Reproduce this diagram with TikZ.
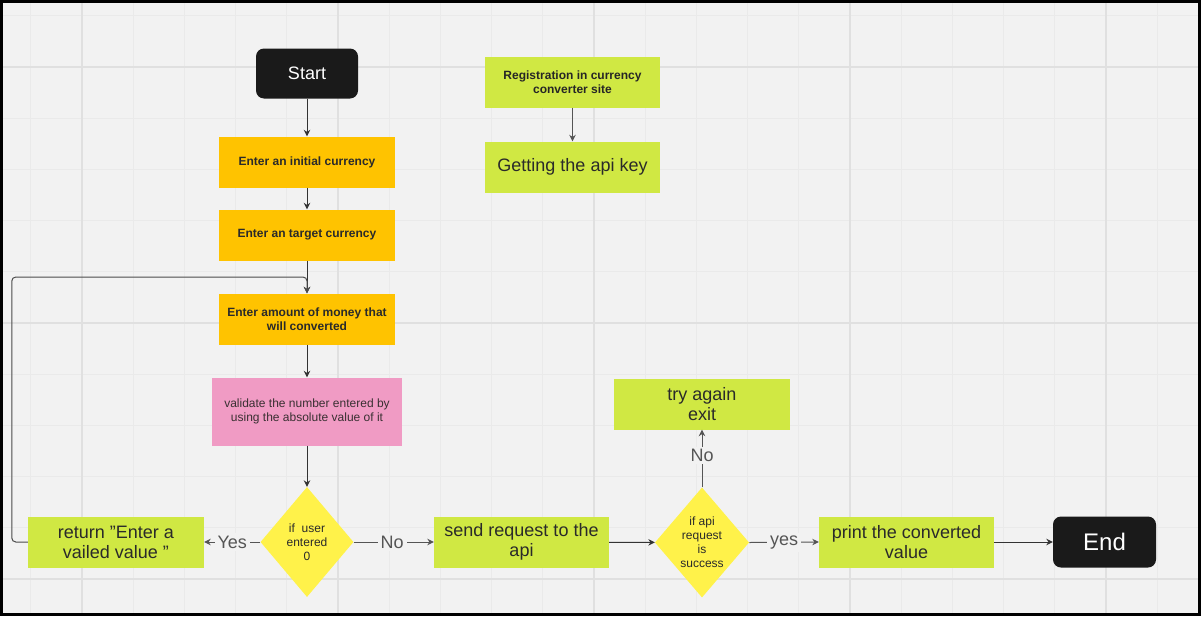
\documentclass[tikz,border=0pt]{standalone}
\usepackage{fontspec}
\setmainfont{Liberation Sans}
\usetikzlibrary{shapes.geometric,arrows.meta}

\definecolor{bg}{HTML}{F2F2F2}
\definecolor{gridminor}{HTML}{EAEAEA}
\definecolor{gridmajor}{HTML}{E0E0E0}
\definecolor{termfill}{HTML}{1A1A1A}
\definecolor{inputfill}{HTML}{FFC300}
\definecolor{procfill}{HTML}{D0E843}
\definecolor{checkfill}{HTML}{F09BC4}
\definecolor{decfill}{HTML}{FFF24A}
\definecolor{linecol}{HTML}{333333}
\definecolor{labelcol}{HTML}{555555}
\definecolor{textcol}{HTML}{2A2A2A}

\tikzset{
  box/.style={rectangle, draw=none, inner sep=2pt, align=center, text=textcol},
  term/.style={box, fill=termfill, rounded corners=8pt, text=white,
    minimum width=102pt, minimum height=51pt},
  inputbox/.style={box, fill=inputfill, minimum width=176pt, minimum height=51pt,
    font=\fontsize{12}{14}\selectfont\bfseries},
  procbox/.style={box, fill=procfill, minimum width=176pt, minimum height=51pt,
    font=\fontsize{18}{20}\selectfont},
  checkbox/.style={box, fill=checkfill, minimum width=190pt, minimum height=68pt,
    text=black!75!magenta!40!black, font=\fontsize{12}{14}\selectfont},
  decision/.style={diamond, draw=none, fill=decfill, inner sep=0pt, align=center,
    minimum width=93pt, minimum height=110pt, text=textcol,
    font=\fontsize{12}{14}\selectfont},
  arr/.style={draw=linecol, line width=1pt, -{Stealth[length=6.5pt,width=6.5pt]}},
  looparr/.style={arr, draw=labelcol!90!black},
  branch/.style={draw=labelcol, line width=1pt, -{Stealth[length=6.5pt,width=6.5pt]}},
  branchlabel/.style={fill=bg, inner sep=3pt, text=labelcol,
    font=\fontsize{18}{20}\selectfont},
}

\begin{document}
\begin{tikzpicture}[x=1pt, y=-1pt]
  % canvas and grid
  \fill[bg] (0,0) rectangle (1201,616);
  \useasboundingbox (0,0) rectangle (1201,616);
  \foreach \i in {-1,...,21} {
    \draw[gridminor, line width=0.9pt] ({82+51.2*\i},0) -- ++(0,616);
  }
  \foreach \i in {-1,...,11} {
    \draw[gridminor, line width=0.9pt] (0,{67+51.2*\i}) -- ++(1201,0);
  }
  \foreach \i in {0,...,4} {
    \draw[gridmajor, line width=1.2pt] ({82+256*\i},0) -- ++(0,616);
  }
  \foreach \i in {0,...,2} {
    \draw[gridmajor, line width=1.2pt] (0,{67+256*\i}) -- ++(1201,0);
  }

  % main column
  \node[term, font=\fontsize{18}{20}\selectfont, minimum height=50pt] (start) at (307,73.5) {Start};
  \node[inputbox] (init) at (307,162) {Enter an initial currency};
  \node[inputbox] (target) at (307,235) {Enter an target currency};
  \node[inputbox] (amount) at (307,319) {Enter amount of money that\\will converted};
  \node[checkbox] (valid) at (307,411.5) {validate the number entered by\\using the absolute value of it};
  \node[decision] (zero) at (307,542) {if\ \ user\\entered\\0};

  % bottom row
  \node[procbox] (ret) at (116,542) {return "Enter a\\vailed value "};
  \node[procbox, minimum width=175pt] (send) at (521.5,542) {send request to the\\api};
  \node[decision, minimum width=92pt] (ok) at (702,542.5) {if api\\request\\is\\success};
  \node[procbox] (retry) at (702,404) {try again\\exit};
  \node[procbox, minimum width=175pt] (print) at (906.5,542) {print the converted\\value};
  \node[term, font=\fontsize{24}{26}\selectfont, minimum width=103pt] (finish) at (1104.5,542) {End};

  % api key setup
  \node[procbox, minimum width=175pt, font=\fontsize{12}{14}\selectfont\bfseries, text=black!85] (reg) at (572.5,82) {Registration in currency\\converter site};
  \node[procbox, minimum width=175pt] (key) at (572.5,167) {Getting the api key};

  % connectors
  \draw[arr] (start) -- (init);
  \draw[arr] (init) -- (target);
  \draw[arr] (target) -- (amount);
  \draw[arr] (amount) -- (valid);
  \draw[arr] (valid) -- (zero);
  \draw[arr] (send) -- (ok);
  \draw[arr] (print) -- (finish);
  \draw[arr, draw=labelcol] (reg) -- (key);

  \draw[branch] (zero.west) -- node[branchlabel, pos=0.5] {Yes} (ret.east);
  \draw[branch] (zero.east) -- node[branchlabel, pos=0.48] {No} (send.west);
  \draw[branch] (ok.north) -- node[branchlabel, pos=0.55, inner sep=2pt] {No} (retry.south);
  \draw[branch] (ok.east) -- node[branchlabel, pos=0.5] {yes} (print.west);

  % retry loop back to the amount input
  \coordinate (join) at (307,277);
  \draw[looparr, rounded corners=4pt] (ret.west) -- ++(-16,0) |- (join) -- (amount.north);

  % frame
  \draw[black, line width=2.6pt] (1.3,1.3) rectangle (1199.7,614.7);
\end{tikzpicture}
\end{document}
